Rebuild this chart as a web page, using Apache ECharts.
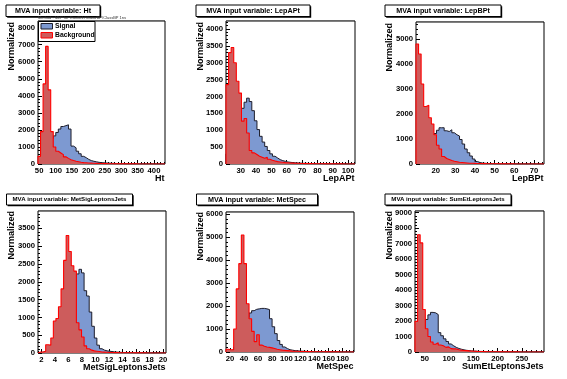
<!DOCTYPE html>
<html><head><meta charset="utf-8">
<script src="https://cdn.jsdelivr.net/npm/echarts@6/dist/echarts.min.js"></script>
<style>html,body{margin:0;padding:0;background:#fff}#c{width:567px;height:379px}</style>
</head><body><div id="c"></div>
<script>
const FONT = '"Liberation Sans", Arial, Helvetica, sans-serif';

// ---------- Panel 1: Ht ----------
const htRange = [46.5, 433.5];
const htSignal = [30,100,300,600,1000,1500,1650,1850,2050,2200,
 2250,2300,2050,1050,950,750,600,450,370,270,
 200,160,130,100,80,70,60,50,40,35,
 30,25,20,20,15,15,12,10,10,8,
 8,6,6,5,5,4,4,3,3,3];
const htBackground = [450,1900,4700,6900,4350,1900,1000,750,650,550,
 420,330,250,200,160,130,100,80,70,60,
 50,40,35,30,25,20,20,15,15,10,
 10,10,8,8,6,6,5,5,5,4,
 4,3,3,3,3,2,2,2,2,2];
const htXTicks = [50,100,150,200,250,300,350,400];
const htYTicks = [0,1000,2000,3000,4000,5000,6000,7000,8000];
const htYMax = 8390;

// ---------- Panel 2: LepAPt ----------
const lepARange = [20.4, 104.5];
const lepASignal = [300,500,750,1000,1250,1450,1650,1830,1950,1850,
 1580,1280,1020,820,650,520,400,300,230,180,
 130,100,80,60,50,40,35,30,25,20,
 20,15,15,12,10,10,8,8,6,6,
 5,5,4,4,3,3,3,2,2,2];
const lepABackground = [2350,3300,3450,3000,2450,2100,1270,1350,920,400,
 330,280,230,200,170,200,140,110,90,70,
 60,50,40,35,30,25,20,20,15,15,
 12,10,10,8,8,6,6,5,5,4,
 4,3,3,3,3,2,2,2,2,2];
const lepAXTicks = [30,40,50,60,70,80,90,100];
const lepAYTicks = [0,500,1000,1500,2000,2500,3000,3500,4000];
const lepAYMax = 4236;

// ---------- Panel 3: LepBPt ----------
const lepBRange = [10, 75.1];
const lepBSignal = [20,60,150,300,500,750,1000,1220,1350,1450,
 1450,1330,1300,1370,1250,1170,1120,980,800,600,
 450,320,200,100,60,40,30,20,20,15,
 10,10,8,8,6,6,5,5,4,4,
 3,3,3,2,2,2,2,1,1,1];
const lepBBackground = [4800,4400,3200,2300,2350,1850,1600,1170,750,600,
 300,220,180,140,110,90,70,60,50,40,
 30,30,25,20,20,15,15,10,10,10,
 8,8,6,6,5,5,4,4,3,3,
 3,2,2,2,2,2,1,1,1,1];
const lepBXTicks = [20,30,40,50,60,70];
const lepBYTicks = [0,1000,2000,3000,4000,5000];
const lepBYMax = 5680;

// ---------- Panel 4: MetSigLeptonsJets ----------
const metSigRange = [1.5, 20.44];
const metSigSignal = [10,20,40,80,120,200,300,450,600,800,
 1050,1300,1550,1800,2000,2220,2350,2250,1750,1600,
 1150,750,420,220,120,80,60,50,40,30,
 25,20,15,12,10,10,8,8,6,6,
 5,5,4,4,3,3,3,2,2,2];
const metSigBackground = [30,30,50,230,220,420,900,970,1300,1800,
 2600,3300,2850,2450,2300,850,650,450,200,120,
 80,60,50,40,30,25,20,15,12,10,
 10,8,8,6,6,5,5,4,4,3,
 3,3,2,2,2,2,2,1,1,1];
const metSigXTicks = [2,4,6,8,10,12,14,16,18,20];
const metSigYTicks = [0,500,1000,1500,2000,2500,3000,3500];
const metSigYMax = 3988;

// ---------- Panel 5: MetSpec ----------
const metSpecRange = [14.4, 196.1];
const metSpecSignal = [20,50,100,200,400,650,900,1200,1500,1700,
 1800,1860,1880,1900,1900,1880,1850,1450,1100,800,
 500,330,220,150,100,80,60,50,40,35,
 30,25,20,15,15,12,10,10,8,8,
 6,6,5,5,4,4,3,3,3,2];
const metSpecBackground = [120,100,100,1000,2750,3850,5100,3850,2100,1450,
 900,450,750,300,250,220,200,180,150,120,
 100,80,70,60,50,40,35,30,25,20,
 20,15,15,12,10,10,8,8,6,6,
 5,5,4,4,3,3,3,2,2,2];
const metSpecXTicks = [20,40,60,80,100,120,140,160,180];
const metSpecYTicks = [0,1000,2000,3000,4000,5000,6000];
const metSpecYMax = 6101;

// ---------- Panel 6: SumEtLeptonsJets ----------
const sumEtRange = [30, 295.6];
const sumEtSignal = [50,300,600,1000,2100,2400,2560,2530,2420,1250,
 1050,850,680,520,400,300,230,180,140,110,
 90,70,60,50,40,35,30,25,20,20,
 15,12,10,10,8,8,6,6,5,5,
 4,4,3,3,3,2,2,2,2,2];
const sumEtBackground = [1980,7580,7050,2750,1500,1000,650,500,600,450,
 400,300,330,220,200,200,150,120,100,90,
 70,60,50,40,35,30,25,20,20,15,
 15,12,10,10,8,8,6,6,5,5,
 4,4,3,3,3,2,2,2,2,2];
const sumEtXTicks = [50,100,150,200,250];
const sumEtYTicks = [0,1000,2000,3000,4000,5000,6000,7000,8000,9000];
const sumEtYMax = 9110;

const titles = ['MVA input variable: Ht','MVA input variable: LepAPt','MVA input variable: LepBPt',
  'MVA input variable: MetSigLeptonsJets','MVA input variable: MetSpec','MVA input variable: SumEtLeptonsJets'];
const xTitles = ['Ht','LepAPt','LepBPt','MetSigLeptonsJets','MetSpec','SumEtLeptonsJets'];
const yTitle = 'Normalized';
const legendNames = ['Signal','Background'];
const methodNote = 'Method : MLP for Run2017/Data/BP/ClassBP 1ns';

// ---------- build ----------
const panels = [
  {range:htRange, sig:htSignal, bkg:htBackground, xt:htXTicks, yt:htYTicks, ymax:htYMax, xminor:10, yminor:200,
   grid:[38,21,127,143], box:[6,5,94,11.5,7.2], ytPos:[11.5,22]},
  {range:lepARange, sig:lepASignal, bkg:lepABackground, xt:lepAXTicks, yt:lepAYTicks, ymax:lepAYMax, xminor:2, yminor:100,
   grid:[226,21,129,143], box:[196,5,114,11.5,7.2], ytPos:[201,22]},
  {range:lepBRange, sig:lepBSignal, bkg:lepBBackground, xt:lepBXTicks, yt:lepBYTicks, ymax:lepBYMax, xminor:2, yminor:200,
   grid:[416,22,128,142], box:[385,5,116,11.5,7.2], ytPos:[389.5,23]},
  {range:metSigRange, sig:metSigSignal, bkg:metSigBackground, xt:metSigXTicks, yt:metSigYTicks, ymax:metSigYMax, xminor:0.5, yminor:100,
   grid:[38,211,128,142], box:[6.5,194,126,11,6.1], ytPos:[11.5,211]},
  {range:metSpecRange, sig:metSpecSignal, bkg:metSpecBackground, xt:metSpecXTicks, yt:metSpecYTicks, ymax:metSpecYMax, xminor:5, yminor:200,
   grid:[226,212,128,140], box:[196.5,194,121,11,7.2], ytPos:[201,212]},
  {range:sumEtRange, sig:sumEtSignal, bkg:sumEtBackground, xt:sumEtXTicks, yt:sumEtYTicks, ymax:sumEtYMax, xminor:10, yminor:200,
   grid:[415,211,129,141], box:[385,194,126,11,6.1], ytPos:[389.5,211]},
];

function steps(min, max, step) {
  const out = [];
  for (let k = Math.ceil(min / step - 1e-9); k * step <= max + 1e-9; k++) out.push(+(k * step).toFixed(6));
  return out;
}
function histPoints(range, values) {
  const n = values.length, w = (range[1] - range[0]) / n;
  const pts = [[range[0], 0]];
  values.forEach((v, i) => pts.push([range[0] + i * w, v]));
  pts.push([range[1], values[n - 1]]);
  pts.push([range[1], 0]);
  return pts;
}

const grids = [], xAxes = [], yAxes = [], series = [], graphics = [];
panels.forEach((p, i) => {
  const [l, t, w, h] = p.grid;
  grids.push({left:l, top:t, width:w, height:h, show:true, borderColor:'#000', borderWidth:1, backgroundColor:'#fff', containLabel:false});
  const lbl = {color:'#000', fontSize:7.7, fontWeight:'bold', fontFamily:FONT, margin:3, formatter:(v) => String(v)};
  xAxes.push({gridIndex:i, type:'value', min:p.range[0], max:p.range[1], position:'bottom',
    axisLine:{show:false}, splitLine:{show:false},
    axisTick:{show:true, inside:true, length:4, customValues:p.xt, lineStyle:{color:'#000', width:1}},
    axisLabel:Object.assign({customValues:p.xt}, lbl)});
  xAxes.push({gridIndex:i, type:'value', min:p.range[0], max:p.range[1], position:'bottom',
    axisLine:{show:false}, splitLine:{show:false}, axisLabel:{show:false},
    axisTick:{show:true, inside:true, length:2, customValues:steps(p.range[0], p.range[1], p.xminor), lineStyle:{color:'#000', width:1}}});
  yAxes.push({gridIndex:i, type:'value', min:0, max:p.ymax, position:'left',
    axisLine:{show:false}, splitLine:{show:false},
    axisTick:{show:true, inside:true, length:4, customValues:p.yt, lineStyle:{color:'#000', width:1}},
    axisLabel:Object.assign({customValues:p.yt}, lbl)});
  yAxes.push({gridIndex:i, type:'value', min:0, max:p.ymax, position:'left',
    axisLine:{show:false}, splitLine:{show:false}, axisLabel:{show:false},
    axisTick:{show:true, inside:true, length:2, customValues:steps(0, p.ymax, p.yminor), lineStyle:{color:'#000', width:1}}});
  const base = {type:'line', step:'end', symbol:'none', showSymbol:false, xAxisIndex:2*i, yAxisIndex:2*i, clip:true, animation:false};
  series.push(Object.assign({}, base, {name:legendNames[0], data:histPoints(p.range, p.sig),
    lineStyle:{color:'#1d1d2b', width:1}, areaStyle:{color:'#7d99d1', opacity:1}, z:2}));
  series.push(Object.assign({}, base, {name:legendNames[1], data:histPoints(p.range, p.bkg),
    lineStyle:{color:'#ff0000', width:1.1}, areaStyle:{color:'#cd5c5c', opacity:1}, z:3}));

  // thicker gray top edge of frame
  graphics.push({type:'line', z:50, shape:{x1:l, y1:t - 0.5, x2:l + w, y2:t - 0.5}, style:{stroke:'#666', lineWidth:1}});

  // title box with shadow
  const [bx, by, bw, bh, fs] = p.box;
  graphics.push({type:'rect', z:100, shape:{x:bx+1.2, y:by+1.2, width:bw, height:bh}, style:{fill:'#000'}});
  graphics.push({type:'rect', z:101, shape:{x:bx, y:by, width:bw, height:bh}, style:{fill:'#fff', stroke:'#000', lineWidth:1}});
  graphics.push({type:'text', z:102, x:bx + bw/2, y:by + bh/2 + 0.3,
    style:{text:titles[i], fill:'#000', fontSize:fs, fontWeight:'bold', fontFamily:FONT,
      align:'center', verticalAlign:'middle', textAlign:'center', textVerticalAlign:'middle'}});
  // y title
  graphics.push({type:'text', z:102, x:p.ytPos[0], y:p.ytPos[1], rotation:Math.PI/2,
    style:{text:yTitle, fill:'#000', fontSize:9, fontWeight:'bold', fontFamily:FONT,
      align:'right', verticalAlign:'middle', textAlign:'right', textVerticalAlign:'middle'}});
  // x title
  graphics.push({type:'text', z:102, x:l + w - 0.5, y:t + h + 10,
    style:{text:xTitles[i], fill:'#000', fontSize:9, fontWeight:'bold', fontFamily:FONT,
      align:'right', verticalAlign:'top', textAlign:'right', textVerticalAlign:'top'}});
});

// method note + legend in first panel
graphics.push({type:'text', z:102, x:38, y:18.3,
  style:{text:methodNote, fill:'#333', fontSize:4, fontFamily:FONT, align:'left', verticalAlign:'middle', textAlign:'left', textVerticalAlign:'middle'}});
graphics.push({type:'rect', z:100, shape:{x:38.5, y:21.5, width:56.5, height:20}, style:{fill:'#fff', stroke:'#000', lineWidth:1}});
graphics.push({type:'rect', z:101, shape:{x:41, y:23.5, width:11.5, height:5.5}, style:{fill:'#7d99d1', stroke:'#1d1d2b', lineWidth:1}});
graphics.push({type:'rect', z:101, shape:{x:41, y:32.5, width:11.5, height:5.5}, style:{fill:'#cd5c5c', stroke:'#ff0000', lineWidth:1}});
graphics.push({type:'text', z:102, x:55, y:26.5,
  style:{text:legendNames[0], fill:'#000', fontSize:6.8, fontWeight:'bold', fontFamily:FONT, align:'left', verticalAlign:'middle', textAlign:'left', textVerticalAlign:'middle'}});
graphics.push({type:'text', z:102, x:55, y:35.3,
  style:{text:legendNames[1], fill:'#000', fontSize:6.8, fontWeight:'bold', fontFamily:FONT, align:'left', verticalAlign:'middle', textAlign:'left', textVerticalAlign:'middle'}});

const chart = echarts.init(document.getElementById('c'), null, {renderer:'canvas', width:567, height:379, devicePixelRatio:1});
chart.setOption({
  backgroundColor:'#fff',
  animation:false,
  grid:grids, xAxis:xAxes, yAxis:yAxes, series:series, graphic:graphics
});
</script>
</body></html>
